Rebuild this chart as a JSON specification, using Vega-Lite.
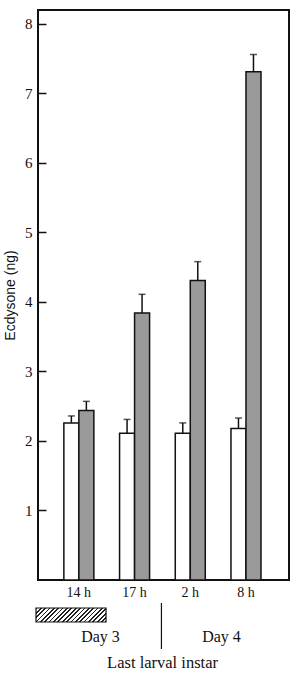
{
  "$schema": "https://vega.github.io/schema/vega-lite/v6.json",
  "width": 251,
  "height": 570,
  "autosize": {"type": "none"},
  "padding": {"left": 38, "top": 10, "right": 4, "bottom": 97},
  "background": "white",
  "config": {
    "view": {"stroke": "#111", "strokeWidth": 2},
    "font": "Liberation Serif",
    "text": {"font": "Liberation Serif", "color": "#111"}
  },
  "layer": [
    {
      "data": {
        "values": [
          {"time": "14 h", "group": "control", "value": 2.26, "upper": 2.36},
          {"time": "14 h", "group": "treated", "value": 2.44, "upper": 2.57},
          {"time": "17 h", "group": "control", "value": 2.11, "upper": 2.31},
          {"time": "17 h", "group": "treated", "value": 3.84, "upper": 4.11},
          {"time": "2 h", "group": "control", "value": 2.11, "upper": 2.26},
          {"time": "2 h", "group": "treated", "value": 4.31, "upper": 4.58},
          {"time": "8 h", "group": "control", "value": 2.18, "upper": 2.33},
          {"time": "8 h", "group": "treated", "value": 7.31, "upper": 7.56}
        ]
      },
      "encoding": {
        "x": {
          "field": "time",
          "type": "nominal",
          "sort": null,
          "scale": {"paddingInner": 0.4614, "paddingOuter": 0.4837, "align": 0.48},
          "axis": {
            "title": null,
            "domain": false,
            "ticks": false,
            "labelAngle": 0,
            "labelPadding": 5,
            "labelFont": "Liberation Serif",
            "labelFontSize": 14,
            "labelColor": "#111"
          }
        },
        "xOffset": {"field": "group", "type": "nominal", "sort": ["control", "treated"]}
      },
      "layer": [
        {
          "mark": {"type": "bar", "stroke": "#111", "strokeWidth": 1.5},
          "encoding": {
            "y": {
              "field": "value",
              "type": "quantitative",
              "scale": {"domain": [0, 8.2], "nice": false},
              "axis": {
                "values": [1, 2, 3, 4, 5, 6, 7, 8],
                "format": "d",
                "title": "Ecdysone (ng)",
                "titleFont": "Liberation Sans",
                "titleFontSize": 14,
                "titleFontWeight": "normal",
                "titleColor": "#111",
                "titlePadding": 7,
                "domain": false,
                "grid": false,
                "tickSize": -8,
                "tickWidth": 1.5,
                "tickColor": "#111",
                "labelPadding": 14,
                "labelFont": "Liberation Serif",
                "labelFontSize": 15,
                "labelColor": "#111"
              }
            },
            "fill": {
              "field": "group",
              "type": "nominal",
              "scale": {"domain": ["control", "treated"], "range": ["#ffffff", "#9a9a9a"]},
              "legend": null
            }
          }
        },
        {
          "mark": {"type": "rule", "stroke": "#111", "strokeWidth": 1.5},
          "encoding": {
            "y": {"field": "value", "type": "quantitative"},
            "y2": {"field": "upper"}
          }
        },
        {
          "mark": {"type": "tick", "color": "#111", "size": 7, "thickness": 1.5},
          "encoding": {
            "y": {"field": "upper", "type": "quantitative"}
          }
        }
      ]
    },
    {
      "data": {"values": [{}]},
      "layer": [
        {
          "mark": {"type": "rect", "stroke": "#111", "strokeWidth": 1.2,
            "fill": {
              "gradient": "linear", "x1": 0, "y1": 0, "x2": 1.2, "y2": 0.24,
              "stops": [
                {"offset": 0, "color": "#222"}, {"offset": 0.02, "color": "#222"}, {"offset": 0.02, "color": "#fff"}, {"offset": 0.05, "color": "#fff"},
                {"offset": 0.05, "color": "#222"}, {"offset": 0.07, "color": "#222"}, {"offset": 0.07, "color": "#fff"}, {"offset": 0.10, "color": "#fff"},
                {"offset": 0.10, "color": "#222"}, {"offset": 0.12, "color": "#222"}, {"offset": 0.12, "color": "#fff"}, {"offset": 0.15, "color": "#fff"},
                {"offset": 0.15, "color": "#222"}, {"offset": 0.17, "color": "#222"}, {"offset": 0.17, "color": "#fff"}, {"offset": 0.20, "color": "#fff"},
                {"offset": 0.20, "color": "#222"}, {"offset": 0.22, "color": "#222"}, {"offset": 0.22, "color": "#fff"}, {"offset": 0.25, "color": "#fff"},
                {"offset": 0.25, "color": "#222"}, {"offset": 0.27, "color": "#222"}, {"offset": 0.27, "color": "#fff"}, {"offset": 0.30, "color": "#fff"},
                {"offset": 0.30, "color": "#222"}, {"offset": 0.32, "color": "#222"}, {"offset": 0.32, "color": "#fff"}, {"offset": 0.35, "color": "#fff"},
                {"offset": 0.35, "color": "#222"}, {"offset": 0.37, "color": "#222"}, {"offset": 0.37, "color": "#fff"}, {"offset": 0.40, "color": "#fff"},
                {"offset": 0.40, "color": "#222"}, {"offset": 0.42, "color": "#222"}, {"offset": 0.42, "color": "#fff"}, {"offset": 0.45, "color": "#fff"},
                {"offset": 0.45, "color": "#222"}, {"offset": 0.47, "color": "#222"}, {"offset": 0.47, "color": "#fff"}, {"offset": 0.50, "color": "#fff"},
                {"offset": 0.50, "color": "#222"}, {"offset": 0.52, "color": "#222"}, {"offset": 0.52, "color": "#fff"}, {"offset": 0.55, "color": "#fff"},
                {"offset": 0.55, "color": "#222"}, {"offset": 0.57, "color": "#222"}, {"offset": 0.57, "color": "#fff"}, {"offset": 0.60, "color": "#fff"},
                {"offset": 0.60, "color": "#222"}, {"offset": 0.62, "color": "#222"}, {"offset": 0.62, "color": "#fff"}, {"offset": 0.65, "color": "#fff"},
                {"offset": 0.65, "color": "#222"}, {"offset": 0.67, "color": "#222"}, {"offset": 0.67, "color": "#fff"}, {"offset": 0.70, "color": "#fff"},
                {"offset": 0.70, "color": "#222"}, {"offset": 0.72, "color": "#222"}, {"offset": 0.72, "color": "#fff"}, {"offset": 0.75, "color": "#fff"},
                {"offset": 0.75, "color": "#222"}, {"offset": 0.77, "color": "#222"}, {"offset": 0.77, "color": "#fff"}, {"offset": 0.80, "color": "#fff"},
                {"offset": 0.80, "color": "#222"}, {"offset": 0.82, "color": "#222"}, {"offset": 0.82, "color": "#fff"}, {"offset": 0.85, "color": "#fff"},
                {"offset": 0.85, "color": "#222"}, {"offset": 0.87, "color": "#222"}, {"offset": 0.87, "color": "#fff"}, {"offset": 0.90, "color": "#fff"},
                {"offset": 0.90, "color": "#222"}, {"offset": 0.92, "color": "#222"}, {"offset": 0.92, "color": "#fff"}, {"offset": 0.95, "color": "#fff"},
                {"offset": 0.95, "color": "#222"}, {"offset": 0.97, "color": "#222"}, {"offset": 0.97, "color": "#fff"}, {"offset": 1, "color": "#fff"}
              ]
            }
          },
          "encoding": {
            "x": {"datum": 0.228, "type": "quantitative", "scale": {"domain": [0.264, 4.77], "nice": false, "zero": false}, "axis": null},
            "x2": {"datum": 1.485},
            "y": {"datum": -0.403, "type": "quantitative"},
            "y2": {"datum": -0.604}
          }
        },
        {
          "mark": {"type": "rule", "stroke": "#111", "strokeWidth": 1.2},
          "encoding": {
            "x": {"datum": 2.48, "type": "quantitative"},
            "y": {"datum": -0.331, "type": "quantitative"},
            "y2": {"datum": -0.993}
          }
        },
        {
          "mark": {"type": "text", "text": "Day 3", "fontSize": 16, "baseline": "middle", "align": "center"},
          "encoding": {
            "x": {"datum": 1.386, "type": "quantitative"},
            "y": {"datum": -0.82, "type": "quantitative"}
          }
        },
        {
          "mark": {"type": "text", "text": "Day 4", "fontSize": 16, "baseline": "middle", "align": "center"},
          "encoding": {
            "x": {"datum": 3.558, "type": "quantitative"},
            "y": {"datum": -0.82, "type": "quantitative"}
          }
        },
        {
          "mark": {"type": "text", "text": "Last larval instar", "fontSize": 16.5, "baseline": "middle", "align": "center"},
          "encoding": {
            "x": {"datum": 2.5, "type": "quantitative"},
            "y": {"datum": -1.194, "type": "quantitative"}
          }
        }
      ]
    }
  ],
  "resolve": {"scale": {"x": "independent"}}
}
